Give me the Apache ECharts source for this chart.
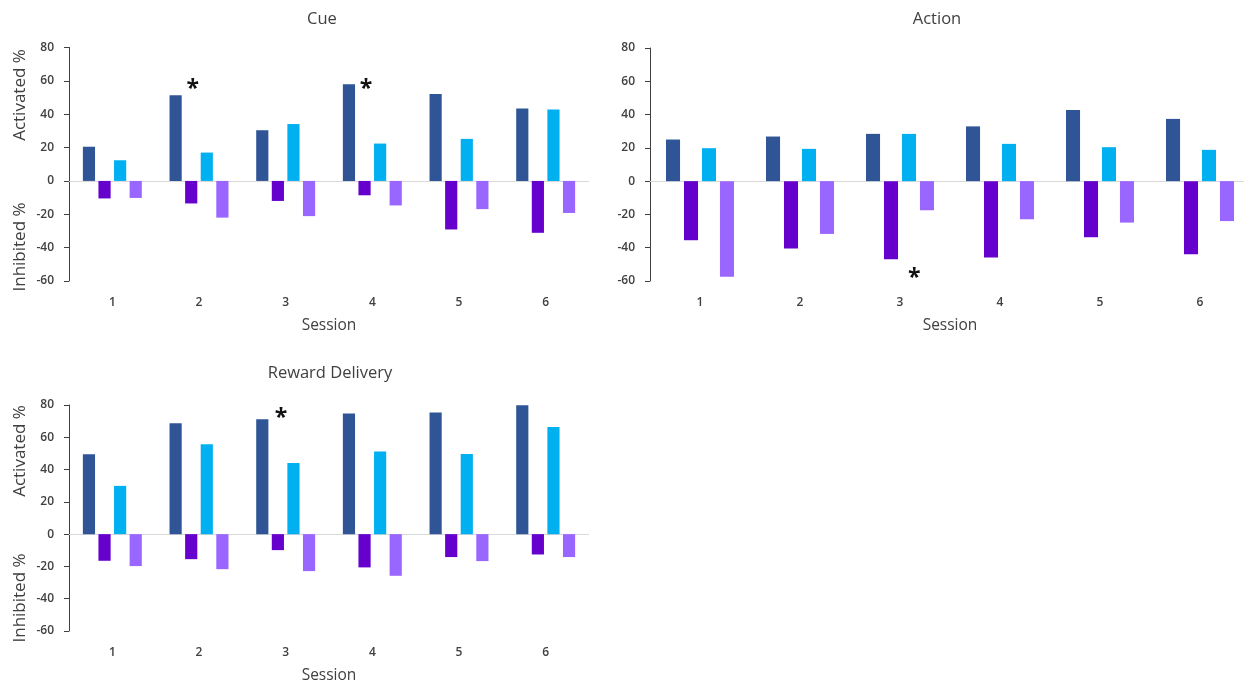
<!DOCTYPE html>
<html>
<head>
<meta charset="utf-8">
<script src="https://cdn.jsdelivr.net/npm/echarts@6/dist/echarts.min.js"></script>
<style>
  html, body { margin: 0; padding: 0; background: #fff; overflow: hidden; }
  #chart { width: 1252px; height: 685px; }
</style>
</head>
<body>
<div id="chart"></div>
<script>
// Sessions on the category axis
const sessions = ['1', '2', '3', '4', '5', '6'];
const yMin = -60, yMax = 80, yStep = 20;

// Cue
const cueActA = [20.5, 51.3, 30.4, 57.9, 52.1, 43.5];
const cueInhA = [-10.5, -13.5, -12, -8.6, -29.1, -31.1];
const cueActB = [12.4, 17, 34.1, 22.4, 25.2, 42.8];
const cueInhB = [-10.2, -22, -21.1, -14.7, -16.9, -19.2];

// Action
const actionActA = [25, 26.8, 28.4, 32.9, 42.8, 37.4];
const actionInhA = [-35.5, -40.5, -46.9, -45.9, -33.7, -43.9];
const actionActB = [19.8, 19.4, 28.4, 22.4, 20.4, 18.8];
const actionInhB = [-57.5, -31.7, -17.5, -22.9, -24.9, -24];

// Reward Delivery
const rewardActA = [49.5, 68.7, 71.2, 74.7, 75.3, 79.9];
const rewardInhA = [-16.5, -15.5, -9.9, -20.6, -14.2, -12.6];
const rewardActB = [29.9, 55.7, 44.1, 51.2, 49.7, 66.4];
const rewardInhB = [-19.8, -21.7, -22.9, -25.8, -16.7, -14.2];

// Significance markers: [session, value, bar slot within the group]
const cueStars = [['2', 58.5, 1.1], ['4', 58.5, 1.1]];
const actionStars = [['3', -55, 2.3]];
const rewardStars = [['3', 75.5, 1.2]];

const FONT = "'Open Sans', 'Noto Sans', sans-serif";
const TEXT = '#404040';
const COLORS = ['#2F5597', '#6600CC', '#00B0F0', '#9966FF'];
const CAT_GAP = 0.32, BAR_GAP = 0.28;

const panels = [
  { title: 'Cue', data: [cueActA, cueInhA, cueActB, cueInhB], stars: cueStars,
    grid: { left: 69, top: 47.5, width: 520, height: 233.5 }, titlePos: [322, 19], yNames: [[20, 95], [20, 247]] },
  { title: 'Action', data: [actionActA, actionInhA, actionActB, actionInhB], stars: actionStars,
    grid: { left: 650, top: 48, width: 600, height: 233 }, titlePos: [937, 19], yNames: null },
  { title: 'Reward Delivery', data: [rewardActA, rewardInhA, rewardActB, rewardInhB], stars: rewardStars,
    grid: { left: 69, top: 405, width: 520, height: 226 }, titlePos: [330, 373], yNames: [[20, 451], [20, 598]] }
];

// Places a star over a given bar slot using the category band width
function starItem(params, api) {
  const p = api.coord([api.value(0), api.value(1)]);
  const band = api.size([1, 0])[0];
  const w = band * (1 - CAT_GAP) / (4 + 3 * BAR_GAP);
  const cx = p[0] - band * (1 - CAT_GAP) / 2 + api.value(2) * (1 + BAR_GAP) * w + w / 2;
  return {
    type: 'text', x: cx, y: p[1] + 6,
    style: { text: '*', fill: '#111', fontSize: 23, fontWeight: 'bold', fontFamily: FONT, align: 'center', verticalAlign: 'middle' }
  };
}

const grids = [], xAxes = [], yAxes = [], series = [], graphics = [];

panels.forEach((pn, i) => {
  grids.push(pn.grid);
  xAxes.push({
    type: 'category', gridIndex: i, data: sessions,
    axisLine: { show: false }, axisTick: { show: false },
    axisLabel: { color: TEXT, fontSize: 12, fontWeight: 600, fontFamily: FONT, margin: 16 },
    name: 'Session', nameLocation: 'middle', nameGap: 37,
    nameTextStyle: { color: TEXT, fontSize: 15.5, fontFamily: FONT }
  });
  yAxes.push({
    type: 'value', gridIndex: i, min: yMin, max: yMax, interval: yStep,
    axisLine: { show: true, lineStyle: { color: '#404040', width: 1 } },
    axisTick: { show: true, length: 5, lineStyle: { color: '#404040' } },
    splitLine: { show: false },
    axisLabel: { color: TEXT, fontSize: 12, fontWeight: 600, fontFamily: FONT, margin: 15 }
  });
  pn.data.forEach((vals, k) => {
    const s = {
      type: 'bar', xAxisIndex: i, yAxisIndex: i, data: vals,
      itemStyle: { color: COLORS[k] },
      barGap: (BAR_GAP * 100) + '%', barCategoryGap: (CAT_GAP * 100) + '%',
      silent: true
    };
    if (k === 0) {
      s.markLine = {
        silent: true, symbol: 'none', label: { show: false },
        lineStyle: { color: '#D9D9D9', type: 'solid', width: 1 },
        data: [{ yAxis: 0 }], z: 1
      };
    }
    series.push(s);
  });
  series.push({
    type: 'custom', xAxisIndex: i, yAxisIndex: i, silent: true,
    data: pn.stars.map(s => [sessions.indexOf(s[0]), s[1], s[2]]),
    renderItem: starItem, z: 5
  });
  graphics.push({
    type: 'text', x: pn.titlePos[0], y: pn.titlePos[1],
    style: { text: pn.title, fill: TEXT, fontSize: 16.5, fontFamily: FONT, align: 'center', verticalAlign: 'middle' }
  });
  if (pn.yNames) {
    ['Activated %', 'Inhibited %'].forEach((t, j) => {
      graphics.push({
        type: 'text', x: pn.yNames[j][0], y: pn.yNames[j][1], rotation: Math.PI / 2,
        style: { text: t, fill: TEXT, fontSize: 17, fontFamily: FONT, align: 'center', verticalAlign: 'middle' }
      });
    });
  }
});

const chart = echarts.init(document.getElementById('chart'), null, { renderer: 'canvas' });
chart.setOption({
  animation: false,
  backgroundColor: '#fff',
  grid: grids, xAxis: xAxes, yAxis: yAxes, series: series, graphic: graphics
});
</script>
</body>
</html>
